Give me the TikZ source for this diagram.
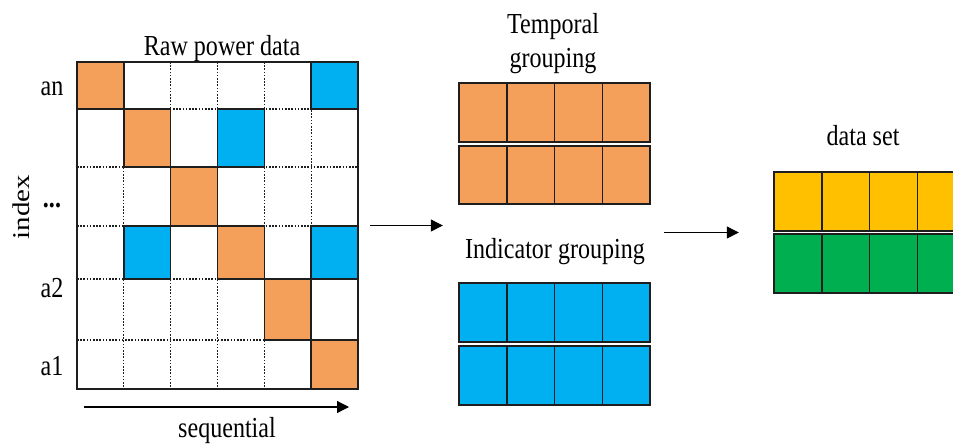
\documentclass[tikz,border=0pt]{standalone}
\usepackage{fontspec}
\usepackage{graphicx}
\setmainfont{Liberation Serif}
\usetikzlibrary{arrows.meta,calc}

\definecolor{cOrange}{HTML}{F4A05A}
\definecolor{cBlue}{HTML}{00B0F0}
\definecolor{cGold}{HTML}{FFC000}
\definecolor{cGreen}{HTML}{00B050}
\definecolor{cEdge}{HTML}{1E1E1E}

% condensed serif lettering
\newcommand{\narrowtxt}[1]{\scalebox{0.83}[1]{#1}}

\begin{document}
\begin{tikzpicture}[x=1pt,y=-1pt,
  lbl/.style={font=\fontsize{29}{32}\selectfont, inner sep=0pt, anchor=base},
  cell/.style={draw=cEdge, line width=1.5pt},
  gridline/.style={draw=cEdge, line width=1.1pt, dash pattern=on 1.6pt off 1.6pt},
  arr/.style={-{Triangle[length=12pt,width=12pt]}, line width=1.2pt, draw=black}]

\clip (0,0) rectangle (953,445);
\fill[white] (0,0) rectangle (953,445);

% ---------- raw power data matrix ----------
\def\rowys{{62,109,167,226,279,340,389}}
\node[draw=none, inner sep=0pt, minimum width=281pt, minimum height=327pt] (raw) at (217.5,225.5) {};

\foreach \c in {1,...,5}
  \draw[gridline] ({77+46.83*\c},62) -- ({77+46.83*\c},389);
\foreach \r in {1,...,5} {
  \pgfmathsetmacro\yy{\rowys[\r]}
  \draw[gridline] (77,\yy) -- (358,\yy);
}

\foreach \c/\r/\col in {0/0/cOrange, 5/0/cBlue, 1/1/cOrange, 3/1/cBlue,
                        2/2/cOrange, 1/3/cBlue, 3/3/cOrange, 5/3/cBlue,
                        4/4/cOrange, 5/5/cOrange} {
  \pgfmathsetmacro\xa{77+46.83*\c}
  \pgfmathsetmacro\xb{77+46.83*(\c+1)}
  \pgfmathsetmacro\ya{\rowys[\r]}
  \pgfmathsetmacro\yb{\rowys[\r+1]}
  \draw[cell, fill=\col] (\xa,\ya) rectangle (\xb,\yb);
}
\draw[cell] (raw.north west) rectangle (raw.south east);

\node[lbl] (rawtitle) at (222,55) {\narrowtxt{Raw power data}};
\node[lbl] (lan) at (52,95) {\narrowtxt{an}};
\node[lbl] (ldots) at (52,207) {\narrowtxt{\textbf{...}}};
\node[lbl] (la2) at (52,297) {\narrowtxt{a2}};
\node[lbl] (la1) at (52,375) {\narrowtxt{a1}};
\node[font=\fontsize{29}{32}\selectfont, inner sep=0pt, rotate=90] (lindex) at (21,207) {\scalebox{1}[0.83]{index}};

\coordinate (seqstart) at (84,407);
\coordinate (seqend) at (349,407);
\draw[arr] (seqstart) -- (seqend);
\node[lbl] (lseq) at (227,437) {\narrowtxt{sequential}};

% ---------- grouping blocks: left x / top / bottom / fill ----------
\foreach \xo/\ya/\yb/\col in {459/83/142/cOrange, 459/146/204/cOrange,
                              459/283/342/cBlue, 459/346/405/cBlue,
                              774/172/231/cGold, 774/234/293/cGreen} {
  \foreach \k in {0,...,3}
    \draw[cell, fill=\col] ({\xo+47.75*\k},\ya) rectangle ({\xo+47.75*(\k+1)},\yb);
}

\node[draw=none, inner sep=0pt, minimum width=191pt, minimum height=322pt] (groups) at (554.5,244) {};
\node[draw=none, inner sep=0pt, minimum width=191pt, minimum height=121pt] (dataset) at (869.5,232.5) {};

\node[lbl] (ltemp) at (553,33) {\narrowtxt{Temporal}};
\node[lbl] (ltemp2) at (553,67) {\narrowtxt{grouping}};
\node[lbl] (lind) at (555,258) {\narrowtxt{Indicator grouping}};
\node[lbl] (lset) at (863,145) {\narrowtxt{data set}};

% ---------- flow arrows ----------
\draw[arr] ([xshift=12pt]raw.east) -- ([xshift=-16pt]groups.west |- raw.east);
\draw[arr] ([xshift=14pt]groups.east |- dataset.west) -- ([xshift=-35pt]dataset.west);

\end{tikzpicture}
\end{document}
